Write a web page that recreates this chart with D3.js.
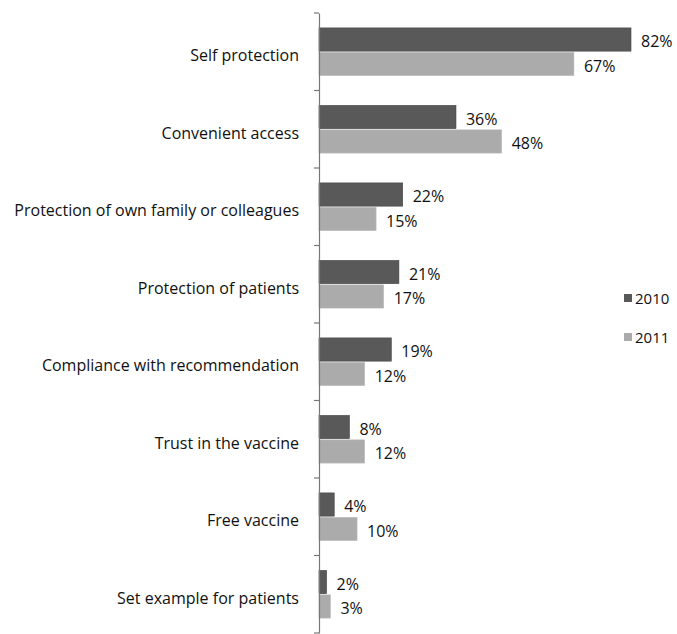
<!DOCTYPE html>
<html>
<head>
<meta charset="utf-8">
<script src="https://cdn.jsdelivr.net/npm/d3@7"></script>
<style>
  body { margin: 0; background: #fff; }
  text { font-family: "Open Sans", "Noto Sans", sans-serif; fill: #111; }
</style>
</head>
<body>
<svg></svg>
<script>
var categories = ["Self protection", "Convenient access", "Protection of own family or colleagues",
    "Protection of patients", "Compliance with recommendation", "Trust in the vaccine",
    "Free vaccine", "Set example for patients"]
var series = ["2010", "2011"]
var values2010 = [82, 36, 22, 21, 19, 8, 4, 2]
var values2011 = [67, 48, 15, 17, 12, 12, 10, 3]
var colors = ["#595959", "#ababab"]

var screen = { width: 677, height: 634 }
var margins = { left: 319, top: 13, right: 46, bottom: 1 }

var svg = d3.select("svg")
    .attr("width", screen.width)
    .attr("height", screen.height)

var yScale = d3.scaleBand()
    .domain(categories)
    .range([margins.top, screen.height - margins.bottom])

var inner = d3.scaleBand()
    .domain(series)
    .range([0, yScale.bandwidth()])
    .paddingOuter(0.61)
    .paddingInner(0.05)

var xScale = d3.scaleLinear()
    .domain([0, 82])
    .range([margins.left, screen.width - margins.right])

var rows = categories.map(function (c, i) {
    return { cat: c, vals: [values2010[i], values2011[i]] }
})

var groups = svg.selectAll("g.row")
    .data(rows)
    .enter()
    .append("g")
    .classed("row", true)
    .attr("transform", function (d) { return "translate(0," + yScale(d.cat) + ")" })

groups.selectAll("rect")
    .data(function (d) { return d.vals.map(function (v, i) { return { s: series[i], v: v, i: i } }) })
    .enter()
    .append("rect")
    .attr("x", xScale(0))
    .attr("y", function (d) { return inner(d.s) })
    .attr("width", function (d) { return xScale(d.v) - xScale(0) })
    .attr("height", inner.bandwidth())
    .attr("fill", function (d) { return colors[d.i] })
    .attr("stroke", function (d) { return d.i == 0 ? "#444" : "#bbb" })
    .attr("stroke-width", 0.6)

groups.selectAll("text.val")
    .data(function (d) { return d.vals.map(function (v, i) { return { s: series[i], v: v } }) })
    .enter()
    .append("text")
    .classed("val", true)
    .attr("x", function (d) { return xScale(d.v) + 10 })
    .attr("y", function (d) { return inner(d.s) + inner.bandwidth() / 2 + 2 })
    .attr("dy", "0.35em")
    .attr("font-size", 16)
    .text(function (d) { return d.v + "%" })

// axis with ticks between categories
var yAxis = d3.axisLeft(yScale)
    .tickSize(0)
    .tickPadding(20)

var axis = svg.append("g")
    .attr("transform", "translate(" + margins.left + ",0)")
    .call(yAxis)
axis.select(".domain").attr("stroke", "#777").attr("stroke-width", 1.2)
axis.selectAll("text").attr("font-size", 16).attr("fill", "#111")
    .attr("font-family", "\"Open Sans\", \"Noto Sans\", sans-serif")
    .attr("dy", "0.58em")

var bounds = categories.map(function (c) { return yScale(c) })
bounds.push(yScale.range()[1])
axis.selectAll("line.sep")
    .data(bounds)
    .enter()
    .append("line")
    .classed("sep", true)
    .attr("x1", -5)
    .attr("x2", 0)
    .attr("y1", function (d) { return d })
    .attr("y2", function (d) { return d })
    .attr("stroke", "#777")
    .attr("stroke-width", 1.2)

// legend
var legend = svg.append("g")
    .attr("transform", "translate(624,294)")
legend.selectAll("rect")
    .data(series)
    .enter()
    .append("rect")
    .attr("x", 0)
    .attr("y", function (d, i) { return i * 39 })
    .attr("width", 8)
    .attr("height", 8)
    .attr("fill", function (d, i) { return colors[i] })
legend.selectAll("text")
    .data(series)
    .enter()
    .append("text")
    .attr("x", 11)
    .attr("y", function (d, i) { return i * 39 + 5 })
    .attr("dy", "0.35em")
    .attr("font-size", 15)
    .text(function (d) { return d })
</script>
</body>
</html>
